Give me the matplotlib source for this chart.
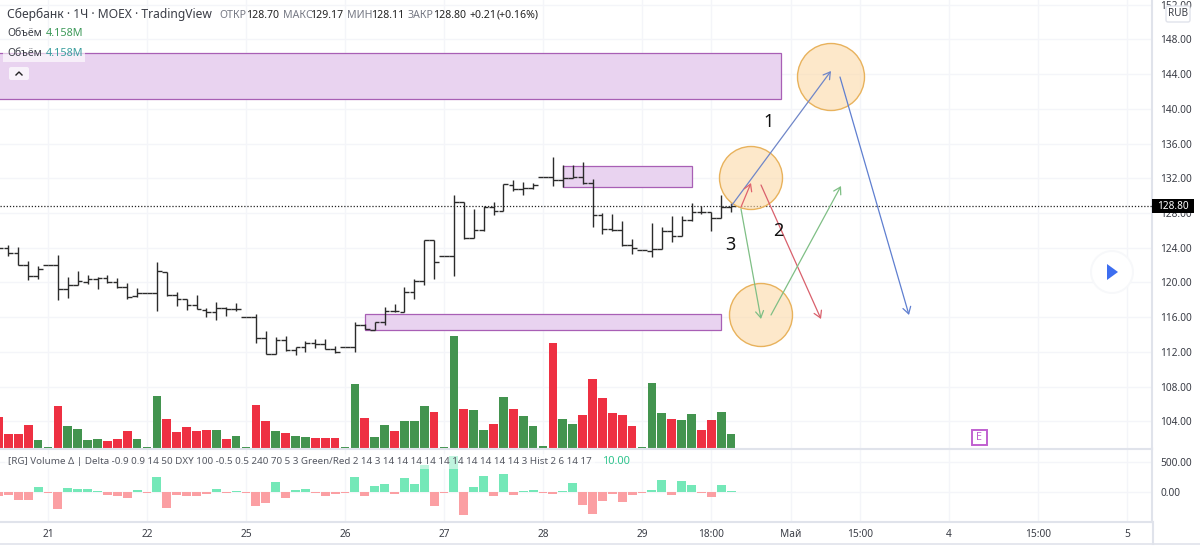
#sberbank hourly chart with hand drawn scenario

import matplotlib
matplotlib.use('Agg')
import matplotlib.pyplot as plt
from matplotlib.patches import Circle, FancyArrowPatch, Polygon, Rectangle, FancyBboxPatch

plt.rcParams['font.family'] = ['Noto Sans', 'DejaVu Sans']

# hourly bars, first bar sits 5 bars left of the "21" tick
first_bar = -5
opens = [123.93, 123.93, 123.43, 122.04, 120.78, 122.04, 122.04, 119.20, 119.74, 120.05,
         120.39, 120.51, 120.05, 119.43, 118.43, 118.74, 118.74, 121.20, 118.51, 118.09,
         117.36, 116.86, 116.59, 117.01, 116.97, 116.05, 116.05, 113.63, 111.79, 113.36,
         112.21, 112.52, 113.02, 112.94, 112.32, 112.59, 112.59, 115.09, 114.51, 115.47,
         116.74, 116.63, 118.85, 120.12, 124.89, 123.04, 123.04, 129.23, 125.16, 126.00,
         128.73, 128.23, 131.22, 130.73, 130.84, 132.11, 132.11, 131.80, 132.00, 132.19,
         131.42, 127.77, 126.12, 126.04, 124.27, 123.73, 123.66, 123.81, 125.89, 125.35,
         127.15, 128.15, 128.15, 127.38, 128.70]
highs = [124.20, 124.31, 124.12, 122.43, 121.93, 122.04, 123.16, 120.66, 121.28, 120.89,
         120.62, 120.81, 120.55, 119.89, 119.39, 118.74, 122.39, 121.20, 118.89, 118.09,
         118.51, 117.01, 117.78, 117.13, 117.66, 116.05, 116.36, 114.40, 113.75, 113.82,
         112.59, 113.25, 113.51, 113.48, 112.67, 112.59, 115.47, 115.17, 115.47, 117.20,
         117.47, 119.47, 120.35, 124.89, 124.89, 123.04, 130.03, 129.23, 128.42, 128.81,
         129.23, 131.30, 131.80, 131.57, 131.49, 132.11, 134.49, 133.53, 133.53, 133.92,
         131.92, 127.96, 127.85, 127.08, 124.96, 123.73, 126.81, 126.42, 127.65, 127.69,
         129.11, 128.81, 128.15, 130.07, 129.17]
lows = [123.60, 123.04, 122.04, 120.28, 120.39, 122.04, 118.01, 118.24, 119.70, 119.82,
        119.28, 119.89, 119.32, 118.13, 118.36, 118.74, 116.67, 118.47, 117.24, 116.78,
        116.90, 116.01, 115.63, 116.09, 116.70, 116.05, 112.98, 111.75, 111.79, 112.09,
        111.63, 112.02, 112.44, 112.29, 111.82, 112.59, 112.02, 114.59, 114.47, 115.05,
        116.59, 116.59, 118.13, 119.70, 120.43, 123.04, 120.74, 125.00, 125.16, 125.96,
        127.77, 128.19, 130.57, 130.11, 130.73, 132.11, 131.11, 130.96, 132.00, 131.30,
        126.35, 125.58, 125.92, 124.23, 123.23, 123.73, 122.97, 123.81, 124.70, 125.39,
        127.08, 127.88, 125.96, 127.38, 128.11]
closes = [123.93, 123.43, 122.04, 120.78, 121.54, 122.04, 119.20, 119.74, 120.12, 120.39,
          120.51, 120.05, 119.51, 118.36, 118.74, 118.74, 121.28, 118.51, 118.09, 117.36,
          116.93, 116.59, 117.01, 116.97, 116.97, 116.05, 113.63, 111.79, 113.36, 112.21,
          112.52, 113.02, 112.94, 112.32, 111.94, 112.59, 115.09, 114.63, 115.47, 116.74,
          116.66, 118.85, 120.12, 124.89, 122.39, 123.04, 129.23, 125.16, 126.00, 128.73,
          128.23, 131.30, 130.73, 130.84, 131.19, 132.11, 131.80, 132.00, 132.19, 131.42,
          127.77, 126.12, 126.04, 124.27, 123.93, 123.73, 123.81, 125.89, 125.35, 127.15,
          128.15, 128.15, 127.38, 128.65, 128.80]

# volume in millions
volumes = [9.2, 4.0, 4.2, 6.7, 2.2, 0.3, 12.5, 6.4, 5.5, 2.2, 2.5, 2.0, 2.5, 5.0, 2.5, 0.3,
           15.7, 8.7, 4.8, 6.2, 5.0, 5.3, 5.3, 2.7, 3.4, 0.3, 13.0, 8.2, 5.0, 4.3, 3.4, 3.1,
           2.9, 2.9, 2.9, 0.3, 19.3, 8.9, 3.1, 6.7, 5.0, 8.0, 8.0, 12.5, 10.7, 0.3, 34.0,
           11.8, 11.3, 5.3, 7.0, 15.4, 11.8, 9.7, 6.5, 0.5, 31.9, 8.7, 7.0, 9.9, 20.7, 15.2,
           10.4, 9.9, 6.5, 0.3, 19.5, 10.4, 8.7, 8.4, 10.2, 5.3, 8.4, 10.7, 4.158]
volume_sides = 'rrrrggrggggrrrgggrrrrrgrggrrgrggrrrggrg' + 'grgggrggrggrgrgggrggrrrrrrgggrggrrgg'

delta = [-55, -44, -128, -128, 89, -6, -278, 78, 50, 50, 22, -44, -61, -100, 39, -6, 255,
         -261, -44, -61, -61, -22, 61, -6, 22, -6, -233, -178, 172, -100, 39, 61, -17, -61,
         -28, -6, 255, -61, 105, 144, -33, 244, 133, 461, -233, -6, 605, -383, 89, 278, -55,
         305, -44, 22, 33, -11, -33, 22, 155, -211, -355, -150, -33, -166, -44, -6, 39, 211,
         -44, 183, 117, -6, -72, 128, 17]

# supply / demand zones: first bar, last bar, low, high
zones = [(-6, 74, 141.1, 146.4), (52, 65, 131.0, 133.4), (32, 68, 114.5, 116.3)]

price_ticks = list(range(104, 156, 4))
time_pos = [0, 10, 20, 30, 40, 50, 60, 67, 75, 82, 91, 100, 109]
time_labels = ['21', '22', '25', '26', '27', '28', '29', '18:00', 'Май', '15:00', '4', '15:00', '5']
last_price = 128.80

W, H = 1200, 546
fig = plt.figure(figsize=(W / 100, H / 100), dpi=100)
grid_c = '#f4f5f9'
axis_c = '#e0e3eb'
text_c = '#3a3d46'
scale_size = 7.3

xlim = (-48 / 9.9, 1104 / 9.9)
bars = [first_bar + n for n in range(len(closes))]

ax = fig.add_axes([0, (H - 447.5) / H, 1152 / W, 447.5 / H])
ax.set_xlim(xlim)
ax.set_ylim(100.97, 152.55)

vol_ax = ax.twinx()
vol_ax.set_ylim(0, 136.1)
vol_ax.axis('off')
vol_colors = ['#43944f' if s == 'g' else '#ee3042' for s in volume_sides]
vol_ax.bar(bars, volumes, width=0.88, color=vol_colors)

# twinx moves the ticks back to the left, so set them up after it
ax.yaxis.tick_right()
ax.set_yticks(price_ticks)
ax.set_yticklabels(['%.2f' % p for p in price_ticks], fontsize=scale_size, color=text_c)
ax.set_xticks(time_pos)
ax.tick_params(axis='x', length=0, labelbottom=False)
ax.tick_params(axis='y', length=0, pad=6)
ax.grid(True, color=grid_c, linewidth=1)
ax.set_axisbelow(True)
for side in ['top', 'left', 'bottom']:
    ax.spines[side].set_visible(False)
ax.spines['right'].set_color(axis_c)
ax.spines['right'].set_linewidth(1.5)

for x0, x1, low, high in zones:
    ax.add_patch(Rectangle((x0, low), x1 - x0, high - low, facecolor='#e9d3f0', edgecolor='#a85fb5',
                           linewidth=0.9, zorder=2))

bar_c = '#2b2b2b'
ax.vlines(bars, lows, highs, color=bar_c, linewidth=1.0, zorder=3)
ax.hlines(opens, [b - 0.48 for b in bars], bars, color=bar_c, linewidth=1.0, zorder=3)
ax.hlines(closes, bars, [b + 0.48 for b in bars], color=bar_c, linewidth=1.0, zorder=3)

ax.axhline(last_price, color='#222222', linestyle=(0, (1, 1.5)), linewidth=0.9, zorder=3)
ax.add_patch(Rectangle((1.0, last_price - 0.8), 42 / 1152, 1.6, transform=ax.get_yaxis_transform(),
                       facecolor='black', edgecolor='none', zorder=9, clip_on=False))
ax.text(1.018, last_price, '%.2f' % last_price, transform=ax.get_yaxis_transform(), color='white',
        fontsize=scale_size, fontweight='bold', ha='center', va='center', zorder=10, clip_on=False)

dax = fig.add_axes([0, (H - 522) / H, 1152 / W, 73.5 / H])
dax.set_xlim(xlim)
dax.set_ylim(-495, 730)
dax.set_yticks([0, 500])
dax.set_yticklabels(['0.00', '500.00'], fontsize=scale_size, color=text_c)
dax.yaxis.tick_right()
dax.set_xticks(time_pos)
dax.set_xticklabels(time_labels, fontsize=scale_size, color=text_c)
dax.tick_params(axis='x', length=0, pad=5)
dax.tick_params(axis='y', length=0, pad=6)
dax.grid(True, color=grid_c, linewidth=1)
dax.set_axisbelow(True)
dax.spines['left'].set_visible(False)
for side in ['top', 'right', 'bottom']:
    dax.spines[side].set_color(axis_c)
    dax.spines[side].set_linewidth(1.5)
delta_colors = ['#74e8b8' if d >= 0 else '#fb9fa3' for d in delta]
dax.bar(bars, delta, width=0.9, color=delta_colors)

# screen overlay in pixels: drawings and the TradingView interface
top = fig.add_axes([0, 0, 1, 1], facecolor='none')
top.set_xlim(0, W)
top.set_ylim(H, 0)
top.axis('off')
top.set_zorder(5)

top.plot([0, 1200], [543.5, 543.5], color=axis_c, linewidth=1.2)
top.plot([1152.5, 1152.5], [522, 544], color=axis_c, linewidth=1.5)

for cx, cy, r in [(831, 77, 33.5), (751, 178, 31.5), (761, 315, 31.5)]:
    top.add_patch(Circle((cx, cy), r, facecolor='#fcd9a8', alpha=0.6, edgecolor='none'))
    top.add_patch(Circle((cx, cy), r, facecolor='none', edgecolor='#e8b25c', linewidth=1.0))

arrows = [((732, 205), (831, 71), '#6f86c8'), ((840, 77), (909, 315), '#5f7fd0'),
          ((741, 207), (751, 183), '#e0626c'), ((761, 185), (821, 319), '#d9606c'),
          ((741, 209), (761, 319), '#7fbf85'), ((771, 315), (841, 186), '#7fbf85')]
for start, end, col in arrows:
    top.add_patch(FancyArrowPatch(start, end, arrowstyle='->,head_length=3,head_width=1.8',
                                  color=col, linewidth=0.9, shrinkA=0, shrinkB=0, mutation_scale=1.6))

for label, x, y in [('1', 769, 122), ('2', 778, 231), ('3', 730, 245)]:
    top.text(x, y, label, fontsize=13, color='#111111', ha='center', va='center')

# header
top.text(7, 14, 'Сбербанк · 1Ч · MOEX · TradingView', fontsize=8.7, color='#3a3d46', va='center')
header = [('ОТКР', 219), ('128.70', 246), ('МАКС', 283), ('129.17', 310), ('МИН', 347),
          ('128.11', 371), ('ЗАКР', 408), ('128.80', 433), ('+0.21', 469), ('(+0.16%)', 497)]
for i, (s, x) in enumerate(header):
    top.text(x, 15, s, fontsize=7.6, va='center', color='#777a85' if i < 8 and i % 2 == 0 else '#222222')

top.add_patch(Rectangle((3, 46), 82, 16, facecolor='white', alpha=0.65, edgecolor='none'))
top.text(7, 34, 'Объём', fontsize=7.6, color=text_c, va='center')
top.text(46, 34, '4.158M', fontsize=7.8, color='#3e9a5a', va='center')
top.text(7, 54, 'Объём', fontsize=7.6, color=text_c, va='center')
top.text(46, 54, '4.158M', fontsize=7.8, color='#3a9e9e', va='center')
top.add_patch(FancyBboxPatch((9, 67), 20, 13, boxstyle='round,pad=0,rounding_size=2', facecolor='#f8f2fa',
                             edgecolor='none'))
top.plot([16, 19, 22], [75, 72, 75], color='#222222', linewidth=1)

top.add_patch(FancyBboxPatch((1166, 6), 24, 16, boxstyle='round,pad=0,rounding_size=2', facecolor='white',
                             edgecolor=axis_c, linewidth=1))
top.text(1178, 14, 'RUB', fontsize=7.2, color=text_c, ha='center', va='center')

top.add_patch(Circle((1112, 272), 22, facecolor='#f7f8fa', edgecolor='none'))
top.add_patch(Circle((1112, 272), 20, facecolor='white', edgecolor='none'))
top.add_patch(Polygon([(1107, 264), (1118, 272), (1107, 280)], facecolor='#3d6ef0', edgecolor='none'))

top.add_patch(Rectangle((972, 430), 14.5, 14.5, facecolor='white', edgecolor='#c060d0', linewidth=1.4))
top.text(979.2, 437.2, 'E', fontsize=7.8, color='#c060d0', ha='center', va='center')

# delta pane legend
top.add_patch(Rectangle((5, 454), 590, 15, facecolor='white', alpha=0.55, edgecolor='none'))
top.text(8, 462, '[RG] Volume Δ | Delta -0.9 0.9 14 50 DXY 100 -0.5 0.5 240 70 5 3 Green/Red 2 14 3 '
         '14 14 14 14 14 14 14 14 14 14 3 Hist 2 6 14 17', fontsize=7.05, color='#555862', va='center')
top.text(602, 462, '10.00', fontsize=8, color='#2fc48d', va='center')

plt.savefig('out.png', dpi=100)
